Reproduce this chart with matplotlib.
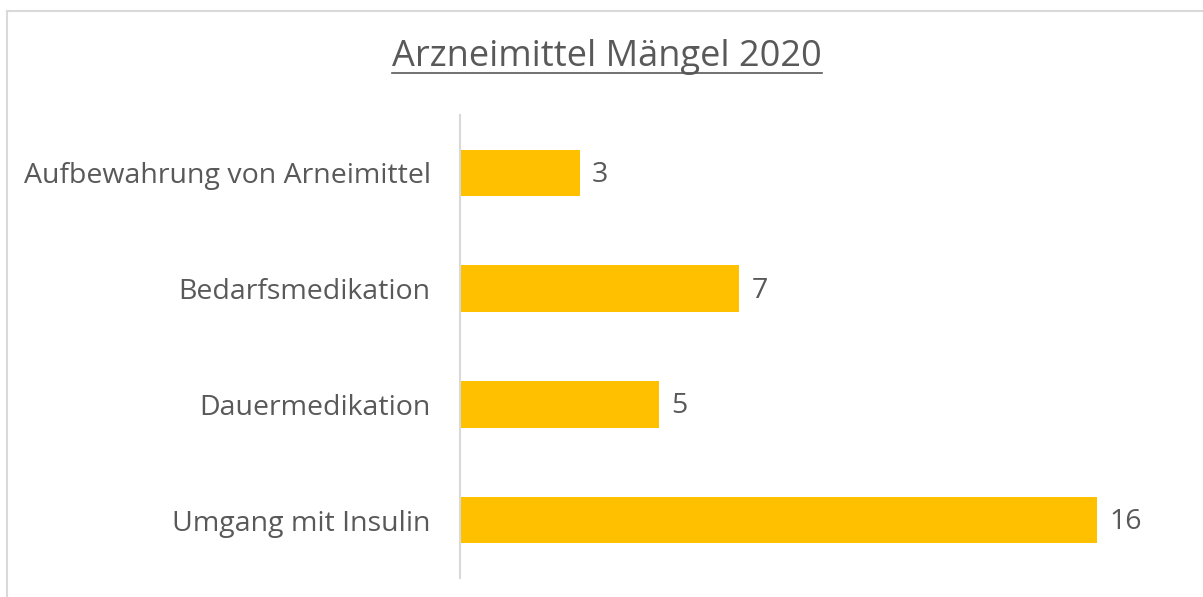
import matplotlib.pyplot as plt
from matplotlib.lines import Line2D

# Data
categories = ['Aufbewahrung von Arneimittel', 'Bedarfsmedikation', 'Dauermedikation', 'Umgang mit Insulin']
values = [3, 7, 5, 16]

plt.rcParams['font.family'] = ['Open Sans', 'DejaVu Sans']
text_color = '#595959'
W, H = 1203, 597

fig = plt.figure(figsize=(W / 100, H / 100), dpi=100)
ax = fig.add_axes([460 / W, (H - 578) / H, (1177 - 460) / W, (578 - 115) / H])

# Horizontal bars, first category on top
pos = list(range(len(categories)))
ax.barh(pos, values, height=0.4, color='#FFC000')
ax.set_ylim(len(categories) - 0.5, -0.5)
ax.set_xlim(0, 18)
ax.set_yticks(pos)
ax.set_yticklabels(categories, fontsize=20.5, color=text_color)
ax.tick_params(axis='y', length=0, pad=21)
ax.set_xticks([])

for s in ['top', 'right', 'bottom']:
    ax.spines[s].set_visible(False)
ax.spines['left'].set_color('#d9d9d9')
ax.spines['left'].set_linewidth(1.5)

# Data labels
for p, v in zip(pos, values):
    ax.annotate(str(v), xy=(v, p), xytext=(9, -1.5), textcoords='offset points',
                va='center', ha='left', fontsize=20.5, color=text_color)

# Title with underline
title = fig.text(607 / W, 1 - 57 / H, 'Arzneimittel Mängel 2020', ha='center', va='center',
                 fontsize=26, color=text_color)
fig.canvas.draw()
bb = title.get_window_extent().transformed(fig.transFigure.inverted())
fig.add_artist(Line2D([bb.x0, bb.x1], [1 - 73 / H] * 2, transform=fig.transFigure,
                      color=text_color, linewidth=1.2))

# Chart border (top and left edges visible)
fig.add_artist(Line2D([7 / W, 1202 / W], [1 - 11 / H] * 2, transform=fig.transFigure,
                      color='#d9d9d9', linewidth=1.5))
fig.add_artist(Line2D([7 / W, 7 / W], [0, 1 - 11 / H], transform=fig.transFigure,
                      color='#d9d9d9', linewidth=1.5))

plt.savefig('out.png', dpi=100)
